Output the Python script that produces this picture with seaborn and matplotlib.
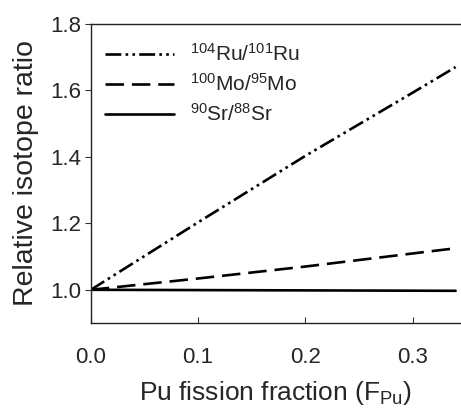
import numpy as np
import pandas as pd
import matplotlib
matplotlib.use("Agg")
import matplotlib.pyplot as plt
import seaborn as sns

# Data
ru_x = [0.0, 0.1, 0.2, 0.3, 0.34]
ru_y = [1.0, 1.203, 1.403, 1.593, 1.670]
mo_x = [0.0, 0.1, 0.2, 0.335]
mo_y = [1.0, 1.034, 1.070, 1.123]
sr_x = [0.0, 0.34]
sr_y = [1.0, 0.997]
labels = [r"$^{104}$Ru/$^{101}$Ru", r"$^{100}$Mo/$^{95}$Mo", r"$^{90}$Sr/$^{88}$Sr"]
xticks = [0.0, 0.1, 0.2, 0.3]
yticks = [1.0, 1.2, 1.4, 1.6, 1.8]

sns.set_style("ticks")
plt.rcParams["font.family"] = ["Liberation Sans", "DejaVu Sans"]
plt.rcParams["mathtext.fontset"] = "custom"
plt.rcParams["mathtext.rm"] = "Liberation Sans"
plt.rcParams["mathtext.it"] = "Liberation Sans:italic"
plt.rcParams["mathtext.default"] = "regular"

df = pd.concat([
    pd.DataFrame({"x": ru_x, "y": ru_y, "series": labels[0]}),
    pd.DataFrame({"x": mo_x, "y": mo_y, "series": labels[1]}),
    pd.DataFrame({"x": sr_x, "y": sr_y, "series": labels[2]}),
], ignore_index=True)

fig = plt.figure(figsize=(4.61, 4.11), dpi=100)
ax = fig.add_axes([0.197, 0.214, 0.803, 0.728])

dash_map = {labels[0]: (6, 1.6, 1, 1.6, 1, 1.6), labels[1]: (7, 3), labels[2]: ""}
sns.lineplot(data=df, x="x", y="y", style="series", style_order=labels,
             dashes=dash_map, color="black", linewidth=1.9, ax=ax, sort=False)

ax.set_xlim(0, 0.345)
ax.set_ylim(0.9, 1.8)
ax.set_xticks(xticks)
ax.set_yticks(yticks)
ax.set_xticklabels([f"{v:.1f}" for v in xticks], fontsize=16)
ax.set_yticklabels([f"{v:.1f}" for v in yticks], fontsize=16)
ax.tick_params(axis="x", direction="in", length=4, pad=17, color="#333333")
ax.tick_params(axis="y", direction="out", length=4, pad=3, color="#333333")
ax.spines["right"].set_visible(False)
for s in ["top", "left", "bottom"]:
    ax.spines[s].set_linewidth(1.0)
    ax.spines[s].set_color("#222222")

ax.set_xlabel(r"Pu fission fraction (F$_{Pu}$)", fontsize=19, labelpad=8)
ax.set_ylabel("Relative isotope ratio", fontsize=20.5, labelpad=8)

leg = ax.legend(loc="upper left", frameon=False, fontsize=15, handlelength=3.3,
                handletextpad=0.75, labelspacing=0.4, borderaxespad=0.3,
                bbox_to_anchor=(0.0, 0.985))
for line in leg.get_lines():
    line.set_linewidth(1.9)

fig.savefig("out.png", dpi=100)
